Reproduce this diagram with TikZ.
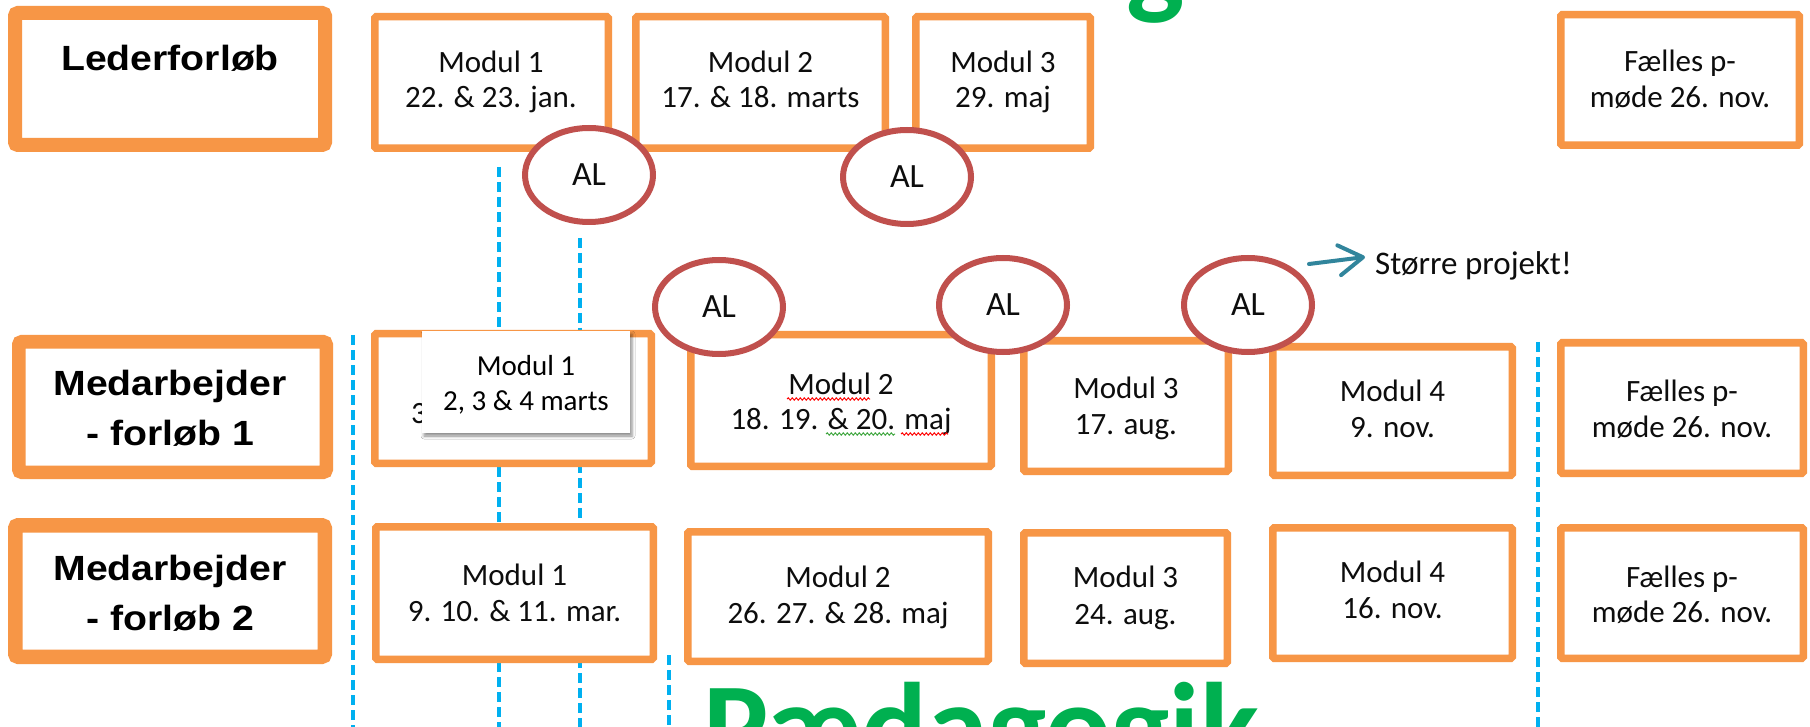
\documentclass[tikz,border=0pt]{standalone}
\usepackage{fontspec}
\setmainfont{Carlito}
\newfontfamily\headfont{Liberation Sans}[FakeStretch=1.12]
\usetikzlibrary{arrows.meta,shapes.geometric,shadows.blur,decorations.pathmorphing}

\definecolor{boxorange}{HTML}{F79646}
\definecolor{alred}{HTML}{C0504D}
\definecolor{lineblue}{HTML}{00B0F0}
\definecolor{titlegreen}{HTML}{00B050}
\definecolor{arrowteal}{HTML}{31859C}
\definecolor{spellgreen}{HTML}{3DA53D}

% box from its outer corners: style, name, x1, y1, x2, y2, border width
\newcommand\placebox[7]{%
  \node[#1, line width=#7pt, minimum width={#5-#3-#7}, minimum height={#6-#4-#7}]
    (#2) at ({(#3+#5)/2},{(#4+#6)/2}) {};}
% two centred text lines: name, x, first baseline, second baseline, text, text
\newcommand\twolines[6]{%
  \node[modtxt] (#1a) at (#2,#3) {#5};
  \node[modtxt] (#1b) at (#2,#4) {#6};}

\begin{document}
\begin{tikzpicture}[x=1pt,y=-1pt,
  modbox/.style={rectangle, draw=boxorange, fill=white, rounded corners=1.5pt, inner sep=0pt, outer sep=0pt},
  labbox/.style={rectangle, draw=boxorange, fill=white, rounded corners=3pt, inner sep=0pt, outer sep=0pt},
  altag/.style={ellipse, draw=alred, fill=white, line width=6pt, minimum width=128pt, minimum height=94pt,
    inner sep=0pt, font=\fontsize{34}{40}\selectfont, text=black!95},
  notebox/.style={rectangle, fill=white, minimum width=208pt, minimum height=102pt, inner sep=0pt,
    blur shadow={shadow xshift=2pt, shadow yshift=-3pt, shadow blur radius=3pt, shadow opacity=45}},
  modtxt/.style={anchor=base, inner sep=0pt, font=\fontsize{31}{36}\selectfont, text=black!95},
  notetxt/.style={anchor=base, inner sep=0pt, font=\fontsize{29}{34}\selectfont, text=black},
  headtxt/.style={anchor=base, inner sep=0pt, font=\headfont\bfseries\fontsize{35}{50}\selectfont, text=black},
  timeline/.style={draw=lineblue, line width=4pt, dash pattern=on 10pt off 5pt},
  bigword/.style={inner sep=0pt, font=\bfseries\fontsize{123}{123}\selectfont, text=titlegreen},
  squiggle/.style={line width=1pt, decorate, decoration={snake, amplitude=1.1pt, segment length=4pt}}
]
\useasboundingbox (0,0) rectangle (1810,727);
\clip (0,0) rectangle (1810,727);
\fill[white] (0,0) rectangle (1810,727);

% large green headings, cut by the page edges
\node[bigword, anchor=south] (topword) at (1156,24) {g};
\node[bigword, anchor=north] (pedagogik) at (981,682) {Pædagogik};

% dashed time markers behind the boxes
\coordinate (d1t) at (353,335); \coordinate (d1b) at (353,727);
\coordinate (d2t) at (499,167); \coordinate (d2b) at (499,727);
\coordinate (d3t) at (580,238); \coordinate (d3b) at (580,727);
\coordinate (d4t) at (669,655); \coordinate (d4b) at (669,727);
\coordinate (d5t) at (1538,342); \coordinate (d5b) at (1538,727);
\foreach \k in {1,...,5} \draw[timeline] (d\k t) -- (d\k b);

% row labels
\placebox{labbox}{lab0}{8}{6}{332}{152}{14}
\placebox{labbox}{lab1}{12}{335}{333}{479}{13.5}
\placebox{labbox}{lab2}{8}{518}{332}{664}{14.5}
\node[headtxt] (lab0t) at (170,71) {Lederforløb};
\node[headtxt] (lab1a) at (170,395) {Medarbejder};
\node[headtxt] (lab1b) at (170,445) {- forløb 1};
\node[headtxt] (lab2a) at (170,580) {Medarbejder};
\node[headtxt] (lab2b) at (170,630) {- forløb 2};

% Lederforløb modules
\placebox{modbox}{lm1}{371}{13}{612}{152}{7.5}
\placebox{modbox}{lm2}{632}{13}{889}{152}{7.5}
\placebox{modbox}{lm3}{912}{13}{1094}{152}{7.5}
\placebox{modbox}{lmf}{1557}{11}{1803}{149}{7.5}
\twolines{lm1t}{491}{73}{108}{Modul 1}{22. \& 23. jan.}
\twolines{lm2t}{760.5}{73}{108}{Modul 2}{17. \& 18. marts}
\twolines{lm3t}{1003}{73}{108}{Modul 3}{29. maj}
\twolines{lmft}{1680}{72}{108}{Fælles p-}{møde 26. nov.}

% Medarbejderforløb 1 modules
\placebox{modbox}{ma1}{371}{330}{655}{467}{7.5}
\placebox{modbox}{ma2}{687}{331}{995}{470}{7.5}
\placebox{modbox}{ma3}{1020}{337}{1232}{475}{7.5}
\placebox{modbox}{ma4}{1269}{343}{1516}{479}{7.5}
\placebox{modbox}{maf}{1557}{339}{1807}{477}{7.5}
\node[modtxt, anchor=base west] (ma1old) at (411,423) {3};
\node[notebox] (ma1note) at (526,382) {};
\node[notetxt] (ma1na) at (526,375) {Modul 1};
\node[notetxt] (ma1nb) at (526,410) {2, 3 \& 4 marts};
\twolines{ma2t}{841}{394}{429}{Modul 2}{18. 19. \& 20. maj}
\twolines{ma3t}{1126}{398}{434}{Modul 3}{17. aug.}
\twolines{ma4t}{1392.5}{401}{437}{Modul 4}{9. nov.}
\twolines{maft}{1682}{401}{437}{Fælles p-}{møde 26. nov.}
% spelling marks under the second module
\draw[squiggle, red] (787,399) -- (870,399);
\draw[squiggle, spellgreen] (826,434) -- (895,434);
\draw[squiggle, red] (901,434) -- (948,434);

% Medarbejderforløb 2 modules
\placebox{modbox}{mb1}{372}{523}{657}{663}{7.5}
\placebox{modbox}{mb2}{684}{528}{992}{665}{7.5}
\placebox{modbox}{mb3}{1020}{529}{1231}{667}{7.5}
\placebox{modbox}{mb4}{1269}{524}{1516}{662}{7.5}
\placebox{modbox}{mbf}{1557}{524}{1807}{662}{7.5}
\twolines{mb1t}{514.5}{585}{621}{Modul 1}{9. 10. \& 11. mar.}
\twolines{mb2t}{838}{587}{623}{Modul 2}{26. 27. \& 28. maj}
\twolines{mb3t}{1125.5}{587}{624}{Modul 3}{24. aug.}
\twolines{mb4t}{1392.5}{582}{618}{Modul 4}{16. nov.}
\twolines{mbft}{1682}{587}{622}{Fælles p-}{møde 26. nov.}

% action learning sessions
\node[altag] (al1) at (589,175) {AL};
\node[altag] (al2) at (907,177) {AL};
\node[altag] (al3) at (719,307) {AL};
\node[altag] (al4) at (1003,305) {AL};
\node[altag] (al5) at (1248,305) {AL};

% note on the last session
\node[modtxt, anchor=base west, font=\fontsize{33}{38}\selectfont] (project) at (1375,275) {Større projekt!};
\coordinate (arrowstart) at (1309,264);
\coordinate (arrowtip) at (1365,257);
\draw[arrowteal, line width=4pt, line cap=round, -{Straight Barb[length=24pt,width=30pt,round]}] (arrowstart) -- (arrowtip);
\end{tikzpicture}
\end{document}
